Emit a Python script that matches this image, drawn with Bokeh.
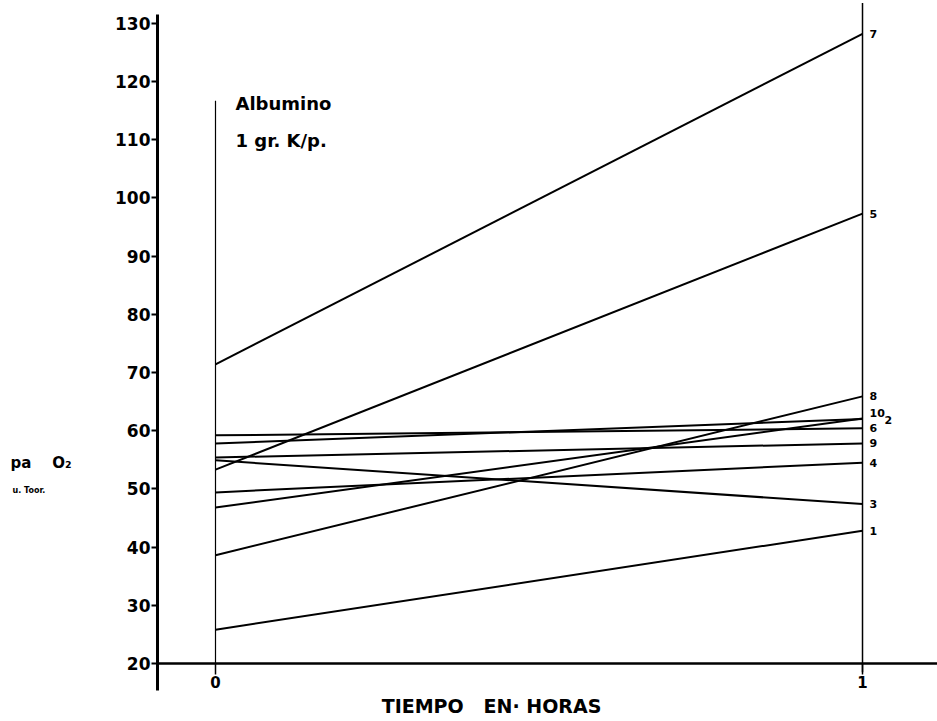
from bokeh.plotting import figure
from bokeh.models import ColumnDataSource, FixedTicker, Label, LinearAxis
from bokeh.embed import file_html
from bokeh.resources import INLINE
from bokeh.core.properties import value

# ---- data ----
subjects = ["1", "2", "3", "4", "5", "6", "7", "8", "9", "10"]
pao2_t0 = [25.8, 57.8, 54.9, 49.4, 53.3, 59.2, 71.4, 38.6, 55.4, 46.8]
pao2_t1 = [42.8, 62.0, 47.4, 54.5, 97.3, 60.4, 128.2, 65.9, 57.8, 62.1]
time_hours = [0, 1]
y_ticks = [20, 30, 40, 50, 60, 70, 80, 90, 100, 110, 120, 130]

FONT = "DejaVu Sans"
NB = "\u00a0"
Y_AXIS_AT = -0.0896   # time position where the y axis is drawn
X_AXIS_AT = 20        # pa O2 value where the time axis is drawn

p = figure(width=937, height=721, x_range=(-0.3323, 1.1159), y_range=(10.03, 133.92),
           output_backend="svg", toolbar_location=None,
           x_axis_location=None, y_axis_location=None,
           min_border_left=0, min_border_right=0, min_border_top=0, min_border_bottom=0)
p.outline_line_color = None
p.xgrid.visible = False
p.ygrid.visible = False
p.background_fill_color = "white"
p.border_fill_color = "white"

# y axis
yax = LinearAxis(fixed_location=Y_AXIS_AT, bounds=(15.3, 131.5))
yax.ticker = FixedTicker(ticks=y_ticks)
yax.axis_line_width = 3
yax.axis_line_color = "black"
yax.major_tick_out = 6
yax.major_tick_in = 0
yax.minor_tick_out = 0
yax.minor_tick_in = 0
yax.major_tick_line_width = 2
yax.major_label_standoff = 1
yax.major_label_text_font = FONT
yax.major_label_text_font_style = "bold"
yax.major_label_text_font_size = "17px"
yax.major_label_text_color = "black"
p.add_layout(yax, "left")

# x axis
xax = LinearAxis(fixed_location=X_AXIS_AT, bounds=(Y_AXIS_AT, 1.12))
xax.ticker = FixedTicker(ticks=time_hours)
xax.axis_line_width = 2.5
xax.axis_line_color = "black"
xax.major_tick_out = 11
xax.major_tick_in = 0
xax.minor_tick_out = 0
xax.minor_tick_in = 0
xax.major_tick_line_width = 1.5
xax.major_label_standoff = 2
xax.major_label_text_font = FONT
xax.major_label_text_font_style = "bold"
xax.major_label_text_font_size = "15px"
xax.major_label_text_color = "black"
p.add_layout(xax, "below")

# vertical guide lines at t=0 and t=1
p.segment(x0=[time_hours[0]], y0=[20], x1=[time_hours[0]], y1=[116.7],
          line_color="black", line_width=1.2)
p.segment(x0=[time_hours[1]], y0=[18.5], x1=[time_hours[1]], y1=[133.5],
          line_color="black", line_width=1.5)

# subject lines
src = ColumnDataSource(dict(
    x0=[time_hours[0]] * len(subjects),
    x1=[time_hours[1]] * len(subjects),
    y0=pao2_t0, y1=pao2_t1, lab=subjects,
))
p.segment(x0="x0", y0="y0", x1="x1", y1="y1", source=src,
          line_color="black", line_width=2)

# end labels (pixel nudges so that crowded labels do not collide)
label_dx = {"2": 22}
label_dy = {"10": -5, "2": 1}
for s, v in zip(subjects, pao2_t1):
    p.text(x=[time_hours[1]], y=[v], text=[s], x_offset=label_dx.get(s, 7),
           y_offset=label_dy.get(s, 0),
           text_font=value(FONT), text_font_style="bold", text_font_size="11px",
           text_baseline="middle", text_align="left", text_color="black")

# annotations
def lab(x, y, t, size, align="left"):
    p.add_layout(Label(x=x, y=y, text=t, text_font=FONT, text_font_style="bold",
                       text_font_size=size, text_baseline="middle", text_align=align,
                       text_color="black"))

lab(0.0309, 116.2, "Albumino", "18px")
lab(0.0309, 109.9, "1 gr. K/p.", "18px")
lab(-0.3169, 54.5, "pa" + NB * 4 + "O₂", "15px")
lab(-0.3138, 49.7, "u." + NB + "Toor.", "8px")
lab(0.4266, 12.7, "TIEMPO" + NB * 3 + "EN·" + NB + "HORAS", "19px", align="center")

open("out.html", "w").write(file_html(p, INLINE))
